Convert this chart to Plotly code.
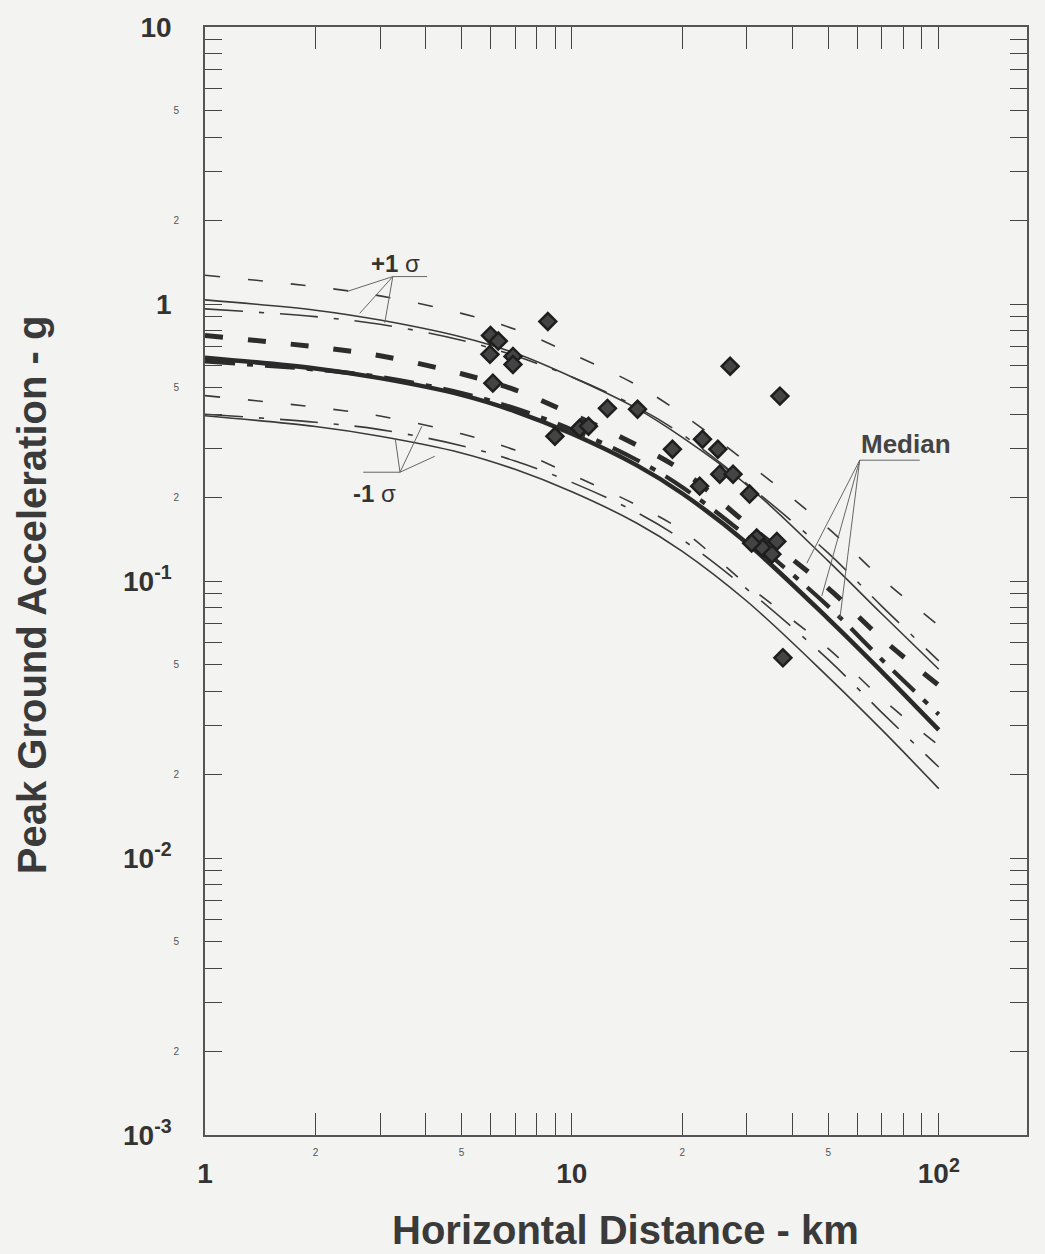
import numpy as np
import plotly.graph_objects as go

# ---------------- data ----------------
distance_km = [1, 2, 3, 5, 7, 10, 15, 20, 30, 50, 70, 100]

# model A (solid)
a_plus1 = [1.035, 0.95, 0.875, 0.76, 0.665, 0.545, 0.42, 0.33, 0.222, 0.118, 0.076, 0.048]
a_median = [0.64, 0.585, 0.54, 0.47, 0.41, 0.34, 0.262, 0.207, 0.137, 0.073, 0.047, 0.029]
a_minus1 = [0.395, 0.361, 0.333, 0.29, 0.253, 0.21, 0.162, 0.128, 0.0845, 0.045, 0.029, 0.0178]

# model B (dashed)
b_plus1 = [1.27, 1.155, 1.07, 0.925, 0.81, 0.66, 0.51, 0.40, 0.268, 0.155, 0.102, 0.069]
b_median = [0.77, 0.70, 0.65, 0.56, 0.49, 0.40, 0.31, 0.25, 0.161, 0.094, 0.062, 0.042]
b_minus1 = [0.467, 0.424, 0.394, 0.34, 0.297, 0.242, 0.188, 0.152, 0.097, 0.057, 0.0376, 0.0255]

# model C (dash-dot)
c_plus1 = [0.96, 0.90, 0.845, 0.74, 0.65, 0.545, 0.425, 0.338, 0.224, 0.126, 0.081, 0.0515]
c_median = [0.62, 0.58, 0.545, 0.477, 0.42, 0.352, 0.274, 0.218, 0.145, 0.081, 0.052, 0.033]
c_minus1 = [0.40, 0.374, 0.352, 0.308, 0.271, 0.227, 0.177, 0.141, 0.0935, 0.052, 0.0335, 0.0213]

# recorded data (diamonds)
obs_distance = [8.6, 6.0, 6.3, 5.98, 6.91, 6.91, 6.09, 12.5, 15.1, 8.99, 10.5, 11.1, 18.8,
                27.0, 36.9, 22.7, 25.0, 25.3, 27.5, 22.3, 30.5, 31.9, 36.2, 33.1, 35.1,
                30.9, 37.6]
obs_pga = [0.865, 0.77, 0.735, 0.658, 0.647, 0.605, 0.518, 0.42, 0.417, 0.333, 0.356, 0.362,
           0.299, 0.596, 0.465, 0.325, 0.299, 0.243, 0.243, 0.22, 0.206, 0.143, 0.139,
           0.1315, 0.125, 0.137, 0.0528]

# tick labels
x_major_vals = [1, 10, 100]
x_major_text = ["1", "10", "10<sup>2</sup>"]
x_minor_vals = [2, 5, 20, 50]
x_minor_text = ["2", "5", "2", "5"]
y_major_vals = [0.001, 0.01, 0.1, 1, 10]
y_major_text = ["10<sup>-3</sup>", "10<sup>-2</sup>", "10<sup>-1</sup>", "1", "10"]
y_minor_vals = [0.002, 0.005, 0.02, 0.05, 0.2, 0.5, 2, 5]
y_minor_text = ["2", "5", "2", "5", "2", "5", "2", "5"]

# annotation leaders (hub, underline end, targets)
plus1_hub = (3.25, 1.256)
plus1_line_end = (4.03, 1.256)
plus1_targets = [(2.44, 1.11), (2.64, 0.925), (3.09, 0.855)]
minus1_hub = (3.40, 0.247)
minus1_line_end = (2.70, 0.247)
minus1_targets = [(3.30, 0.327), (3.90, 0.362), (4.23, 0.282)]
median_hub = (60.9, 0.273)
median_line_end = (88.8, 0.273)
median_targets = [(43.7, 0.116), (48.0, 0.0883), (53.8, 0.0736)]

# ---------------- styling ----------------
BG = "#f3f3f1"
INK = "#333333"
FONT = "Liberation Sans, Arial, sans-serif"

fig = go.Figure()

def add_curve(y, width, dash, color=INK):
    fig.add_trace(go.Scatter(x=distance_km, y=y, mode="lines",
                             line=dict(color=color, width=width, dash=dash, shape="spline",
                                       smoothing=1.0),
                             showlegend=False, hoverinfo="skip"))

thin = 1.6
add_curve(a_plus1, thin, "solid", "#3a3a3a")
add_curve(a_minus1, thin, "solid", "#3a3a3a")
add_curve(b_plus1, thin, "15px,28px", "#3a3a3a")
add_curve(b_minus1, thin, "15px,28px", "#3a3a3a")
add_curve(c_plus1, thin, "38px,16px,5px,16px", "#3a3a3a")
add_curve(c_minus1, thin, "38px,16px,5px,16px", "#3a3a3a")
add_curve(c_median, 4.2, "30px,12px,6px,12px", "#2c2c2c")
add_curve(b_median, 5.0, "18px,25px", "#2c2c2c")
add_curve(a_median, 4.5, "solid", "#2a2a2a")

# leader lines
lx, ly = [], []
for hub, end, targets in [(plus1_hub, plus1_line_end, plus1_targets),
                          (minus1_hub, minus1_line_end, minus1_targets),
                          (median_hub, median_line_end, median_targets)]:
    lx += [hub[0], end[0], None]
    ly += [hub[1], end[1], None]
    for t in targets:
        lx += [hub[0], t[0], None]
        ly += [hub[1], t[1], None]
fig.add_trace(go.Scatter(x=lx, y=ly, mode="lines", line=dict(color="#666666", width=1),
                         showlegend=False, hoverinfo="skip", xaxis="x2", yaxis="y2"))

fig.add_trace(go.Scatter(x=obs_distance, y=obs_pga, mode="markers",
                         marker=dict(symbol="diamond", size=13, color="#444444",
                                     line=dict(color="#1e1e1e", width=2.5)),
                         showlegend=False, hoverinfo="skip"))

# ticks
x_all = [m * 10 ** e for e in (0, 1) for m in range(1, 10)] + [100]
y_all = [round(m * 10.0 ** e, 6) for e in (-3, -2, -1, 0) for m in range(1, 10)] + [10]
x_text = [x_major_text[x_major_vals.index(v)] if v in x_major_vals else "" for v in x_all]
y_major_r = [round(v, 6) for v in y_major_vals]
y_text = [y_major_text[y_major_r.index(v)] if v in y_major_r else "" for v in y_all]

X_RANGE = [0, np.log10(174)]
Y_RANGE = [-3, 1]

fig.update_layout(
    width=1045, height=1254,
    margin=dict(l=205, r=18, t=25, b=119),
    paper_bgcolor=BG, plot_bgcolor=BG,
    font=dict(family=FONT, color=INK),
    xaxis=dict(type="log", range=X_RANGE, tickmode="array", tickvals=x_all, ticktext=x_text,
               ticks="inside", ticklen=22, tickwidth=1.2, tickcolor="#444",
               showline=True, linecolor="#555", linewidth=1.5, mirror="ticks",
               showgrid=False, zeroline=False, ticklabelstandoff=13,
               tickfont=dict(family=FONT, size=28, color=INK, weight="bold")),
    yaxis=dict(type="log", range=Y_RANGE, tickmode="array", tickvals=y_all, ticktext=y_text,
               ticks="inside", ticklen=17, tickwidth=1.2, tickcolor="#444",
               showline=True, linecolor="#555", linewidth=1.5, mirror="ticks",
               showgrid=False, zeroline=False, ticklabelstandoff=26,
               tickfont=dict(family=FONT, size=28, color=INK, weight="bold")),
    xaxis2=dict(type="log", range=X_RANGE, overlaying="x", anchor="y2", side="bottom",
                tickmode="array", tickvals=x_minor_vals, ticktext=x_minor_text,
                ticks="", showline=False, showgrid=False, zeroline=False,
                ticklabelstandoff=10, tickfont=dict(family=FONT, size=10, color="#555")),
    yaxis2=dict(type="log", range=Y_RANGE, overlaying="y", anchor="x2", side="left",
                tickmode="array", tickvals=y_minor_vals, ticktext=y_minor_text,
                ticks="", showline=False, showgrid=False, zeroline=False,
                ticklabelstandoff=25, tickfont=dict(family=FONT, size=10, color="#555")),
)

ann = []
ann.append(dict(text="<b>+1</b> σ", x=np.log10(3.31), y=np.log10(1.40), xref="x", yref="y",
                showarrow=False, font=dict(family=FONT, size=24, color=INK)))
ann.append(dict(text="<b>-1</b> σ", x=np.log10(2.90), y=np.log10(0.207), xref="x", yref="y",
                showarrow=False, font=dict(family=FONT, size=24, color=INK)))
ann.append(dict(text="<b>Median</b>", x=np.log10(81.3), y=np.log10(0.312), xref="x", yref="y",
                showarrow=False, font=dict(family=FONT, size=26, color="#444")))
ann.append(dict(text="<b>Horizontal Distance - km</b>", x=0.511, y=-0.0856, xref="paper",
                yref="paper", showarrow=False, xanchor="center", yanchor="middle",
                font=dict(family=FONT, size=40, color="#3a3a3a")))
ann.append(dict(text="<b>Peak Ground Acceleration - g</b>", x=-0.2105, y=0.488, xref="paper",
                yref="paper", showarrow=False, textangle=-90, xanchor="center",
                yanchor="middle", font=dict(family=FONT, size=40, color="#3a3a3a")))
fig.update_layout(annotations=ann)

fig.write_html("out.html",
               config={"displayModeBar": False},
               post_script="document.body.style.margin='0';"
                           "document.body.style.overflow='hidden';"
                           "document.body.style.background='%s';" % BG)
